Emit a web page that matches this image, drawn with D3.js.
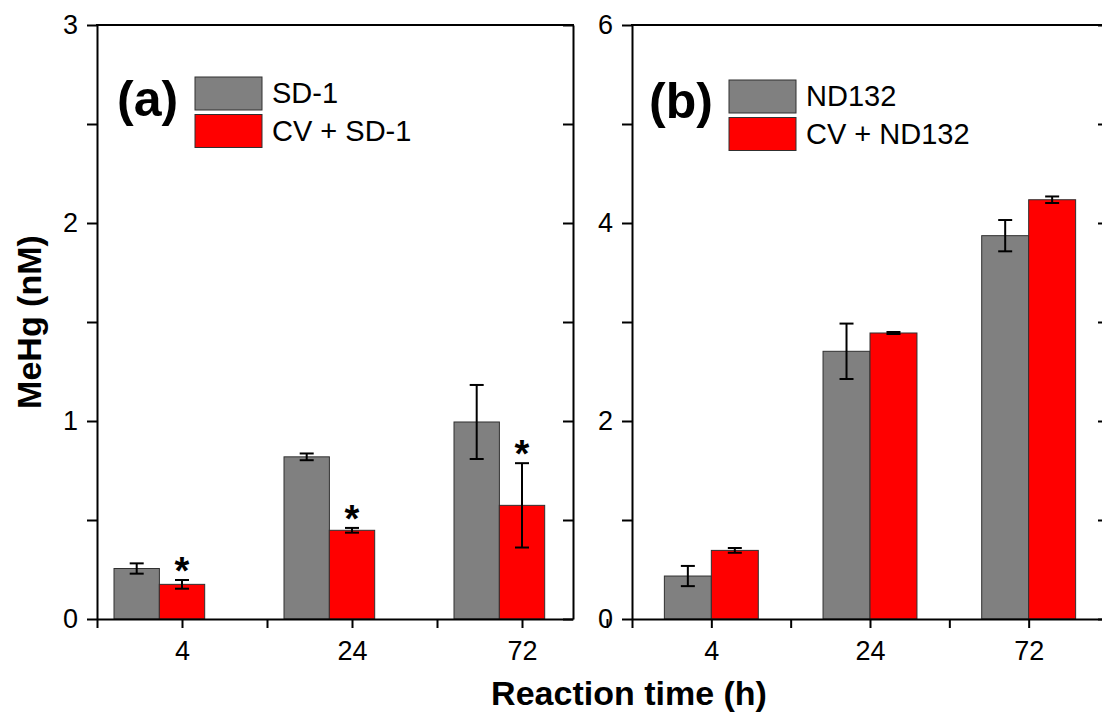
<!DOCTYPE html>
<html>
<head>
<meta charset="utf-8">
<script src="https://cdn.jsdelivr.net/npm/d3@7"></script>
<style>
  body { margin: 0; background: #fff; }
</style>
</head>
<body>
<script>
// reaction times (h)
const categories = ["4", "24", "72"];

// panel (a)
const sd1 = [0.255, 0.819, 0.995];
const sd1Err = [0.026, 0.017, 0.187];
const cvSd1 = [0.175, 0.448, 0.574];
const cvSd1Err = [0.022, 0.012, 0.213];
const starsA = ["*", "*", "*"];
const yTicksA = [0, 0.5, 1, 1.5, 2, 2.5, 3];

// panel (b)
const nd132 = [0.434, 2.704, 3.872];
const nd132Err = [0.102, 0.28, 0.158];
const cvNd132 = [0.693, 2.889, 4.235];
const cvNd132Err = [0.024, 0.01, 0.033];
const yTicksB = [0, 1, 2, 3, 4, 5, 6];

const xTicks = [0.5, 1, 1.5, 2, 2.5, 3, 3.5];

const font = "'Liberation Sans', Arial, sans-serif";
const gray = "#808080";
const red = "#ff0000";

let svg = d3.select("body").append("svg")
  .attr("width", 1102)
  .attr("height", 719);

function drawPanel(p) {
  const x = d3.scaleLinear().domain(p.xDomain).range([p.left, p.right]);
  const y = d3.scaleLinear().domain([0, p.yMax]).range([619, 25]);
  const g = svg.append("g");

  // bars
  const series = [
    {vals: p.s1, errs: p.e1, fill: gray, off: p.off1},
    {vals: p.s2, errs: p.e2, fill: red, off: p.off2}
  ];
  series.forEach(s => {
    g.selectAll(null)
      .data(s.vals)
      .enter()
        .append("rect")
        .attr("x", (d, i) => x(i + 1 + s.off))
        .attr("y", d => y(d))
        .attr("width", x(p.w) - x(0))
        .attr("height", d => y(0) - y(d))
        .attr("fill", s.fill)
        .attr("stroke", "#303030")
        .attr("stroke-width", 1);
  });

  // error bars
  series.forEach(s => {
    s.vals.forEach((d, i) => {
      const cx = x(i + 1 + s.off + p.w / 2);
      const top = y(d + s.errs[i]);
      const bot = y(d - s.errs[i]);
      g.append("line")
        .attr("x1", cx).attr("x2", cx)
        .attr("y1", top).attr("y2", bot)
        .attr("stroke", "black").attr("stroke-width", 2);
      [top, bot].forEach(yy => {
        g.append("line")
          .attr("x1", cx - 7).attr("x2", cx + 7)
          .attr("y1", yy).attr("y2", yy)
          .attr("stroke", "black").attr("stroke-width", 2);
      });
    });
  });

  // significance stars
  if (p.stars) {
    p.stars.forEach((st, i) => {
      g.append("text")
        .attr("x", x(i + 1 + p.off2 + p.w / 2))
        .attr("y", y(p.s2[i] + p.e2[i]) + 4)
        .attr("text-anchor", "middle")
        .attr("font-family", font)
        .attr("font-weight", "bold")
        .attr("font-size", "38px")
        .attr("fill", "black")
        .text(st);
    });
  }

  // left axis
  const yAxis = g.append("g")
    .attr("transform", `translate(${p.left},0)`)
    .call(d3.axisLeft(y).tickValues(p.yTicks).tickSize(10).tickPadding(9).tickSizeOuter(0)
      .tickFormat(d => Number.isInteger(d / p.yStep) ? d : ""));
  // right mirror ticks
  const yAxisR = g.append("g")
    .attr("transform", `translate(${p.right},0)`)
    .call(d3.axisLeft(y).tickValues(p.yTicks).tickSize(10).tickSizeOuter(0).tickFormat(""));
  // bottom axis
  const xAxis = g.append("g")
    .attr("transform", "translate(0,619)")
    .call(d3.axisBottom(x).tickValues(xTicks).tickSize(9).tickPadding(13).tickSizeOuter(0)
      .tickFormat(d => Number.isInteger(d) ? (categories[d - 1] || "") : ""));

  [yAxis, yAxisR, xAxis].forEach(a => {
    a.selectAll("line").attr("stroke", "black").attr("stroke-width", 2);
    a.selectAll("path").attr("stroke", "black").attr("stroke-width", 2);
    a.selectAll("text")
      .attr("font-family", font)
      .attr("font-size", "27px")
      .attr("fill", "black");
  });

  // top line
  g.append("line")
    .attr("x1", p.left - 1).attr("x2", p.right + 1)
    .attr("y1", 25).attr("y2", 25)
    .attr("stroke", "black").attr("stroke-width", 2);

  // panel letter
  g.append("text")
    .attr("x", p.letterX)
    .attr("y", p.letterY)
    .attr("font-family", font)
    .attr("font-weight", "bold")
    .attr("font-size", "50px")
    .attr("fill", "black")
    .text(p.letter);

  // legend
  p.legend.forEach((name, i) => {
    g.append("rect")
      .attr("x", p.legX)
      .attr("y", p.legY + i * 37.5)
      .attr("width", 67)
      .attr("height", 33)
      .attr("fill", i === 0 ? gray : red)
      .attr("stroke", "#303030")
      .attr("stroke-width", 1);
    g.append("text")
      .attr("x", p.legX + 77)
      .attr("y", p.legY + 26 + i * 37.5)
      .attr("font-family", font)
      .attr("font-size", "29px")
      .attr("fill", "black")
      .text(name);
  });
}

drawPanel({
  left: 97, right: 573, xDomain: [0.5, 3.3], yMax: 3, yTicks: yTicksA, yStep: 1,
  s1: sd1, e1: sd1Err, s2: cvSd1, e2: cvSd1Err,
  off1: -0.4, off2: -0.1335, w: 0.267, stars: starsA,
  letter: "(a)", letterX: 117, letterY: 116,
  legend: ["SD-1", "CV + SD-1"], legX: 195, legY: 77
});

drawPanel({
  left: 632, right: 1108, xDomain: [0.5, 3.5], yMax: 6, yTicks: yTicksB, yStep: 2,
  s1: nd132, e1: nd132Err, s2: cvNd132, e2: cvNd132Err,
  off1: -0.296, off2: 0, w: 0.296, stars: null,
  letter: "(b)", letterX: 649, letterY: 118,
  legend: ["ND132", "CV + ND132"], legX: 729, legY: 80
});

// axis titles
svg.append("text")
  .attr("transform", "translate(41,322) rotate(-90)")
  .attr("text-anchor", "middle")
  .attr("font-family", font)
  .attr("font-weight", "bold")
  .attr("font-size", "34px")
  .attr("fill", "black")
  .text("MeHg (nM)");

svg.append("text")
  .attr("x", 629)
  .attr("y", 705)
  .attr("text-anchor", "middle")
  .attr("font-family", font)
  .attr("font-weight", "bold")
  .attr("font-size", "34px")
  .attr("fill", "black")
  .text("Reaction time (h)");
</script>
</body>
</html>
